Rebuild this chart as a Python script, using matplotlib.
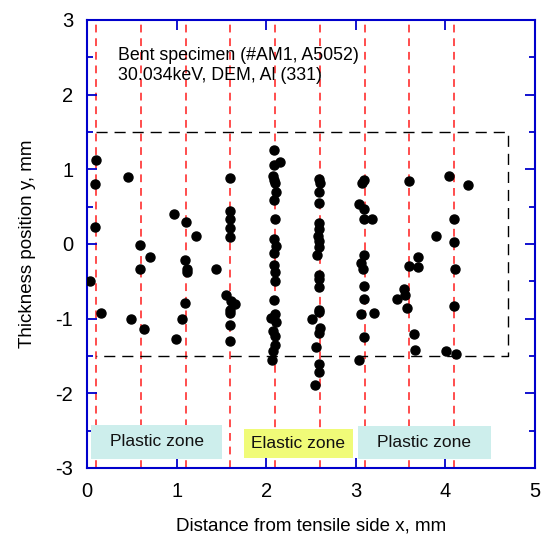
import matplotlib
matplotlib.use("Agg")
import matplotlib.pyplot as plt
from matplotlib.patches import Rectangle
from matplotlib.ticker import MultipleLocator

plt.rcParams['font.family'] = ['Liberation Sans', 'DejaVu Sans']
plt.rcParams['axes.unicode_minus'] = False

# measured points: x (distance from tensile side), y (thickness position)
x_pts = [0.10, 0.46, 0.09, 0.09, 0.03, 0.15,
         0.97, 1.10, 1.22, 0.59, 0.70, 1.09, 0.59, 1.11, 1.12, 1.44, 1.09, 0.49, 1.06, 0.64, 0.99,
         1.60, 1.60, 1.60, 1.60, 1.60, 1.55, 1.61, 1.65, 1.60, 1.60, 1.59, 1.59,
         2.09, 2.15, 2.09, 2.08, 2.09, 2.10, 2.11, 2.09, 2.10, 2.09, 2.11, 2.09, 2.09, 2.10,
         2.10, 2.09, 2.10, 2.05, 2.11, 2.08, 2.10, 2.10, 2.08, 2.07,
         2.59, 2.60, 2.59, 2.59, 2.59, 2.59, 2.58, 2.59, 2.59, 2.57, 2.59, 2.59, 2.59,
         2.59, 2.59, 2.51, 2.60, 2.59, 2.56, 2.59, 2.59, 2.55,
         3.09, 3.07, 3.04, 3.09, 3.09, 3.18, 3.09, 3.06, 3.08, 3.09, 3.09, 3.06, 3.20, 3.09, 3.04,
         3.60, 3.90, 3.70, 3.60, 3.70, 3.54, 3.55, 3.46, 3.57, 3.65, 3.66,
         4.04, 4.25, 4.10, 4.10, 4.11, 4.10, 4.01, 4.12]
y_pts = [1.13, 0.89, 0.80, 0.23, -0.50, -0.92,
         0.40, 0.30, 0.11, -0.01, -0.18, -0.21, -0.33, -0.33, -0.37, -0.33, -0.79, -1.00, -1.00, -1.14, -1.28,
         0.88, 0.44, 0.33, 0.21, 0.09, -0.68, -0.77, -0.80, -0.88, -0.92, -1.09, -1.30,
         1.26, 1.10, 1.06, 0.91, 0.86, 0.82, 0.69, 0.59, 0.34, 0.06, -0.03, -0.12, -0.28, -0.37,
         -0.50, -0.75, -0.94, -0.99, -1.05, -1.17, -1.24, -1.35, -1.44, -1.55,
         0.87, 0.81, 0.69, 0.55, 0.28, 0.20, 0.11, 0.04, -0.04, -0.15, -0.42, -0.47, -0.58,
         -0.88, -0.91, -1.01, -1.12, -1.20, -1.38, -1.61, -1.72, -1.89,
         0.86, 0.81, 0.54, 0.47, 0.33, 0.33, -0.15, -0.26, -0.33, -0.57, -0.74, -0.94, -0.92, -1.25, -1.55,
         0.84, 0.11, -0.17, -0.30, -0.31, -0.60, -0.69, -0.74, -0.86, -1.21, -1.42,
         0.91, 0.79, 0.33, 0.02, -0.33, -0.83, -1.43, -1.47]

# scan lines
scan_x = [0.1, 0.6, 1.1, 1.6, 2.1, 2.6, 3.1, 3.6, 4.1]

# gauge region (dashed box)
box_x = [0.1, 4.7, 4.7, 0.1]
box_y = [1.5, 1.5, -1.5, -1.5]

# zone labels
zone_names = ["Plastic zone", "Elastic zone", "Plastic zone"]
zone_left = [0.045, 1.75, 3.02]
zone_right = [1.51, 2.97, 4.51]
zone_bottom = [-2.88, -2.87, -2.88]
zone_top = [-2.42, -2.48, -2.44]
zone_colors = ["#cdeeec", "#f0fb78", "#cdeeec"]

fig = plt.figure(figsize=(5.48, 5.39), dpi=100)
ax = fig.add_axes([0.159, 0.132, 0.817, 0.831])

for xv in scan_x:
    ax.axvline(xv, color="#ff4d4d", lw=1.4, dashes=(4, 3), zorder=1)

ax.plot(box_x, box_y, color="black", lw=1.0, dashes=(8, 5), zorder=2)

for name, l, r, b, t, c in zip(zone_names, zone_left, zone_right, zone_bottom, zone_top, zone_colors):
    ax.add_patch(Rectangle((l, b), r - l, t - b, facecolor=c, edgecolor="none", zorder=3))
    ax.text((l + r) / 2, (b + t) / 2, name, ha="center", va="center", fontsize=12.5,
            color="#111111", zorder=4)

ax.plot(x_pts, y_pts, "o", color="black", markersize=6.5, zorder=5)

ax.text(0.346, 2.46, "Bent specimen (#AM1, A5052)", fontsize=12.8, va="baseline", ha="left")
ax.text(0.346, 2.20, "30.034keV, DEM, Al (331)", fontsize=12.8, va="baseline", ha="left")

ax.set_xlim(0, 5)
ax.set_ylim(-3, 3)
ax.xaxis.set_major_locator(MultipleLocator(1))
ax.yaxis.set_major_locator(MultipleLocator(1))
ax.yaxis.set_minor_locator(MultipleLocator(0.5))

for s in ax.spines.values():
    s.set_color("#0000cc")
    s.set_linewidth(1.5)
ax.tick_params(which="both", direction="in", top=True, right=True, color="#0000cc", width=1.3)
ax.tick_params(which="major", length=7, labelsize=14.5, pad=10)
ax.tick_params(which="minor", length=4)

ax.set_xlabel("Distance from tensile side x, mm", fontsize=13.5, labelpad=12)
ax.set_ylabel("Thickness position y, mm", fontsize=13.5, labelpad=14)

fig.savefig("out.png", dpi=100)
